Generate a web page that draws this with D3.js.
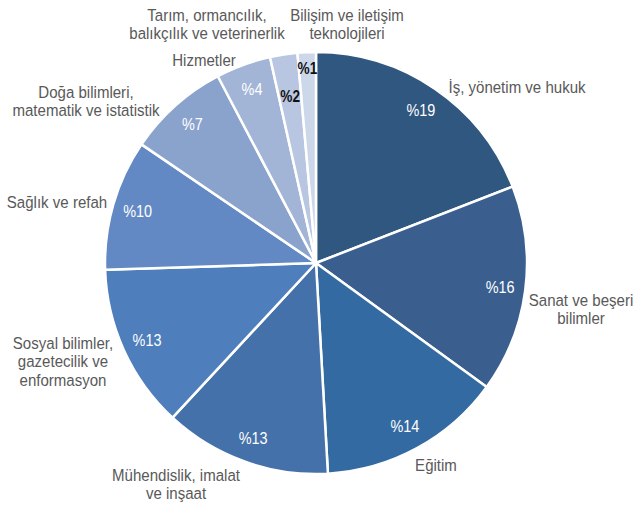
<!DOCTYPE html>
<html>
<head>
<meta charset="utf-8">
<script src="https://cdn.jsdelivr.net/npm/d3@7"></script>
<style>
  body { margin: 0; background: #fff; }
  svg { display: block; font-family: 'Liberation Sans', Arial, sans-serif; }
</style>
</head>
<body>
<div class="chart-container"></div>
<script>
// Share of graduates by field (percent), clockwise from 12 o'clock
const fields = [
    ['İş, yönetim ve hukuk'],
    ['Sanat ve beşeri', 'bilimler'],
    ['Eğitim'],
    ['Mühendislik, imalat', 've inşaat'],
    ['Sosyal bilimler,', 'gazetecilik ve', 'enformasyon'],
    ['Sağlık ve refah'],
    ['Doğa bilimleri,', 'matematik ve istatistik'],
    ['Hizmetler'],
    ['Tarım, ormancılık,', 'balıkçılık ve veterinerlik'],
    ['Bilişim ve iletişim', 'teknolojileri']
];
const shares = [19.1, 15.9, 14.1, 12.8, 12.6, 10.0, 7.8, 4.2, 2.1, 1.4];
const shareLabels = ['%19', '%16', '%14', '%13', '%13', '%10', '%7', '%4', '%2', '%1'];

const colors = ['#30577f', '#3a5f8f', '#346aa2', '#4571aa', '#4e7ebb',
    '#6289c4', '#8aa3cc', '#a3b5d7', '#b9c6e1', '#cdd7ea'];

// where the category names sit (centre of the text block)
const namePos = [
    [517, 87], [581, 300], [436, 465], [176, 475], [63, 343],
    [57, 202], [86, 92], [204, 60], [207, 15], [347, 15]
];

const width = 633;
const height = 505;
const cx = 316;
const cy = 263;
const radius = 211;
const lineH = 18.5;
const squeeze = 0.885; // narrow face is not installed, so compress horizontally

const svg = d3.select('.chart-container')
    .append('svg')
    .attr('width', width)
    .attr('height', height);

const data = shares.map((v, i) => ({ value: v, name: fields[i], label: shareLabels[i], i }));

const pie = d3.pie()
    .sort(null)
    .value(d => d.value);

const arcs = pie(data);

const arc = d3.arc()
    .innerRadius(0)
    .outerRadius(radius);

const g = svg.append('g')
    .attr('transform', `translate(${cx},${cy})`);

g.selectAll('path')
    .data(arcs)
    .enter()
    .append('path')
    .attr('d', arc)
    .attr('fill', d => colors[d.data.i])
    .attr('stroke', '#fff')
    .attr('stroke-width', 2.5)
    .attr('stroke-linejoin', 'round');

// percent labels inside the slices
g.selectAll('text.pct')
    .data(arcs)
    .enter()
    .append('text')
    .attr('class', 'pct')
    .each(function(d) {
        const small = d.data.value < 3;
        const r = radius * (d.data.i === 8 ? 0.8 : (small ? 0.925 : 0.88));
        const a = (d.startAngle + d.endAngle) / 2;
        d3.select(this)
            .attr('transform', `translate(${Math.sin(a) * r},${-Math.cos(a) * r}) scale(0.85,1)`)
            .attr('fill', small ? '#111' : '#fff')
            .attr('font-weight', small ? 'bold' : 'normal')
            .style('font-size', small ? '16px' : '17px');
    })
    .attr('text-anchor', 'middle')
    .attr('dy', '0.35em')
    .text(d => d.data.label);

// category names outside the pie
svg.append('g')
    .selectAll('text')
    .data(data)
    .enter()
    .append('text')
    .attr('text-anchor', 'middle')
    .attr('fill', '#595959')
    .style('font-size', '17px')
    .attr('transform', d => `translate(${namePos[d.i][0]},${namePos[d.i][1]}) scale(${squeeze},1)`)
    .each(function(d) {
        d3.select(this)
            .selectAll('tspan')
            .data(d.name)
            .enter()
            .append('tspan')
            .attr('x', 0)
            .attr('y', (t, k) => k * lineH)
            .attr('dy', '0.35em')
            .text(t => t);
    });
</script>
</body>
</html>
